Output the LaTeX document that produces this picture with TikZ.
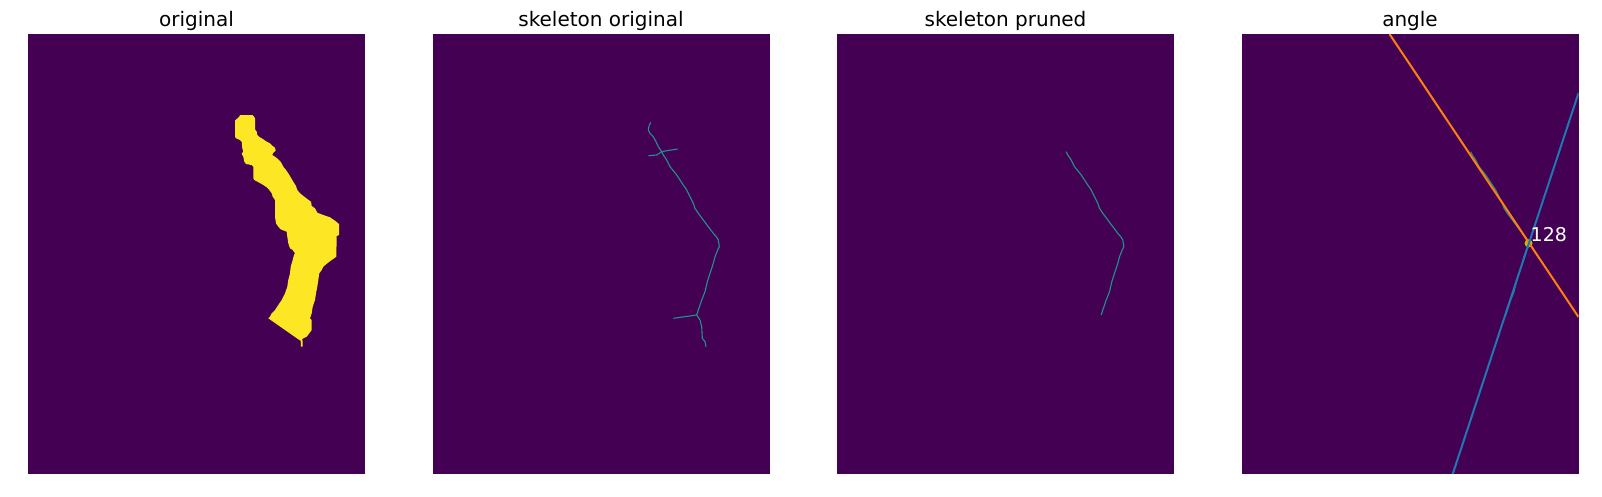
\documentclass[tikz,border=0pt]{standalone}
\usepackage{fontspec}
\setmainfont{DejaVu Sans}
\usepackage{xcolor}
\usepackage{tikz}
\usetikzlibrary{positioning}

\definecolor{vdark}{HTML}{440154}
\definecolor{vyellow}{HTML}{FDE725}
\definecolor{vteal}{HTML}{21918C}
\definecolor{mplblue}{HTML}{1F77B4}
\definecolor{mplorange}{HTML}{FF7F0E}
\definecolor{mplolive}{HTML}{BFBF00}

% skeleton branch between the two junctions
\newcommand{\prunedpath}{(661.7,151.7) -- (663.3,155) -- (666.7,160) -- (670,166.7) -- (673.3,170.7) -- (676.7,175) -- (680,180) -- (683.3,185) -- (686.7,190) -- (690,196.7) -- (693.3,203.3) -- (695,208.3) -- (698.3,213.3) -- (703.3,220) -- (708.3,226.7) -- (713.3,233.3) -- (716.7,237.3) -- (718.3,240) -- (719.3,246.7) -- (717.7,250) -- (715,256.7) -- (713.3,263.3) -- (710,273.3) -- (707.3,281.7) -- (705,291.7) -- (701.7,300) -- (698.3,310) -- (696.7,315)}

\begin{document}
\begin{tikzpicture}[
  x=1pt, y=-1pt,
  panel/.style={fill=vdark},
  title/.style={anchor=base, inner sep=0pt, font=\fontsize{20}{24}\selectfont},
  skel/.style={draw=vteal, line width=1.1pt, line join=round},
  fitline/.style={line width=2pt},
  anglelbl/.style={anchor=base west, inner sep=0pt, text=white, font=\fontsize{19}{23}\selectfont}
]
\useasboundingbox (0,0) rectangle (1602,496);

% panels
\fill[panel] (28,34) rectangle (365,474);
\fill[panel] (432.5,34) rectangle (769.5,474);
\fill[panel] (837,34) rectangle (1174,474);
\fill[panel] (1241.5,34) rectangle (1578.5,474);

\node[title] (origtitle) at (196.5,26) {original};
\node[title] (skeltitle) at (601,26) {skeleton original};
\node[title] (prunedtitle) at (1005.5,26) {skeleton pruned};
\node[title] (angletitle) at (1410,26) {angle};

% original mask
\fill[vyellow] (235,120.7) -- (236.7,119) -- (239.3,116.7) -- (240,115) -- (252.3,115) -- (254,116.7) -- (255,118.3) -- (255,129.3) -- (256.7,131.7) -- (257.3,135) -- (259,136.7) -- (263.3,139.3) -- (266.7,141.7) -- (270,143.3) -- (272.7,146) -- (275,147.7) -- (275.7,150.7) -- (273.3,152.7) -- (272.3,155) -- (275,156.7) -- (278.3,159.3) -- (280.7,161.7) -- (283.3,166.7) -- (286,170) -- (288.3,173.3) -- (290.7,177.3) -- (293.3,181.7) -- (296,186) -- (297.3,190) -- (300,193.3) -- (304.3,196.7) -- (307.7,199.3) -- (311,201.7) -- (311.7,206) -- (315,208.3) -- (317.3,212.7) -- (323.3,215) -- (330,217.3) -- (335,220.7) -- (339,224) -- (339,235) -- (336.7,236) -- (336.3,256.7) -- (331.7,260) -- (327.3,263.3) -- (323.3,266.7) -- (321.7,270) -- (319.3,273.3) -- (318.3,280) -- (317.3,286.7) -- (316,293.3) -- (315,300) -- (312.7,306.7) -- (311.7,313.3) -- (310,318.3) -- (311.7,320) -- (311.7,330) -- (309.3,333.3) -- (306.7,336.7) -- (303.3,338.3) -- (301.7,340) -- (302.7,340.7) -- (302.7,346.7) -- (301,346.7) -- (300.7,340.7) -- (298.3,339.3) -- (268.3,318.3) -- (270,316.7) -- (271.7,313.3) -- (275,310) -- (278.3,305) -- (281.7,300) -- (285,293.3) -- (287.3,286.7) -- (288.3,280) -- (290,273.3) -- (290.7,266.7) -- (292.7,260) -- (294,255) -- (295,253.3) -- (292.7,250) -- (290,248.3) -- (288.3,243.3) -- (287.3,236.7) -- (286.7,231.7) -- (280.7,229.3) -- (278.3,226.7) -- (276,223.3) -- (275,216.7) -- (275,200) -- (272.7,196.7) -- (271.7,193.3) -- (269.3,190) -- (266.7,187.3) -- (263.3,185) -- (259.3,182.7) -- (254.3,180) -- (253.3,178.3) -- (253.3,166.7) -- (251.7,165) -- (246,164) -- (244.3,161.7) -- (243.3,156.7) -- (242.3,155) -- (241.7,153.3) -- (243.3,151.7) -- (242.3,148.3) -- (241.7,141.7) -- (240,140) -- (236,138.3) -- (235,136.7) -- cycle;

% skeleton original
\draw[skel] (650.7,122.3) -- (649,126) -- (648.3,130) -- (650,133.3) -- (653.3,136.7) -- (656,141.7) -- (658.3,146.7) -- (661.7,151.7);
\draw[skel] (648.3,155.7) -- (656.7,155) -- (661.7,151.7) -- (666.7,150.7) -- (677.7,149);
\draw[skel] \prunedpath;
\draw[skel] (673.3,318.3) -- (696.7,315) -- (700,320) -- (701.7,326.7) -- (702.3,338.3) -- (705,341.7) -- (706,346.7);

% skeleton pruned
\draw[skel, xshift=404.5] \prunedpath;

% angle
\begin{scope}
  \clip (1241.5,34) rectangle (1578.5,474);
  \draw[skel, xshift=809] \prunedpath;
  \fill[mplolive] (1528.5,243.3) circle (4);
  \draw[fitline, mplorange] (1389.5,34) -- (1578.5,317);
  \draw[fitline, mplblue] (1452.7,474) -- (1578.5,93);
\end{scope}
\node[anglelbl] (anglevalue) at (1530.5,241.7) {128};
\end{tikzpicture}
\end{document}
